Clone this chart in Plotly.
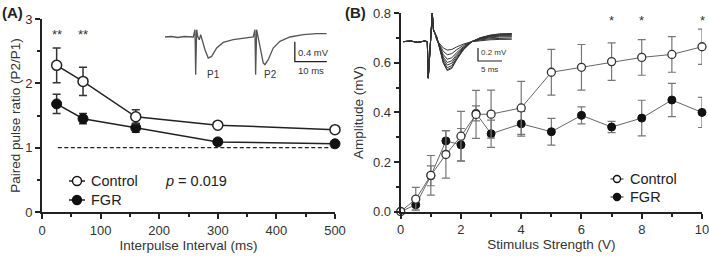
import plotly.graph_objects as go

W, H = 709, 256
FONT = "Liberation Sans, Arial, sans-serif"

# ---------------- Panel A data ----------------
ipi = [25, 70, 160, 300, 500]
ppr_control = [2.28, 2.03, 1.48, 1.35, 1.28]
ppr_control_err = [0.27, 0.22, 0.11, 0.03, 0.03]
ppr_fgr = [1.68, 1.45, 1.31, 1.09, 1.06]
ppr_fgr_err = [0.15, 0.08, 0.07, 0.02, 0.02]
sig_a_x = [25, 70]
sig_a_text = ["**", "**"]
unity_ratio = 1.0
unity_start = 27

# ---------------- Panel B data ----------------
stim = [0, 0.5, 1, 1.5, 2, 2.5, 3, 4, 5, 6, 7, 8, 9, 10]
amp_control = [0.0, 0.05, 0.146, 0.23, 0.304, 0.392, 0.393, 0.418, 0.562, 0.582, 0.605, 0.622, 0.634, 0.665]
amp_control_err = [0.0, 0.047, 0.08, 0.095, 0.10, 0.097, 0.097, 0.107, 0.092, 0.092, 0.076, 0.072, 0.072, 0.071]
amp_fgr = [0.0, 0.027, 0.144, 0.285, 0.269, 0.396, 0.314, 0.354, 0.322, 0.388, 0.341, 0.377, 0.45, 0.40]
amp_fgr_err = [0.0, 0.02, 0.04, 0.042, 0.066, 0.03, 0.055, 0.05, 0.054, 0.034, 0.023, 0.072, 0.067, 0.061]
sig_b_x = [7, 8, 10]
sig_b_text = ["*", "*", "*"]

legend_names = ["Control", "FGR"]

# ---------------- Inset A (paired-pulse trace; ms, mV) ----------------
trace_a_t = [0, 2, 4, 6, 8.84, 9.38, 9.59, 9.91, 10.22, 10.72, 11.16, 11.78, 12.5, 13.53, 14.59,
             16.16, 18.22, 21.34, 24.47, 27.6, 28.13, 28.34, 28.66, 29.16, 29.69, 30.72, 31.25,
             32.28, 33.84, 35.94, 39.06, 43.22, 47.41, 50.53]
trace_a_v = [0, 0.01, -0.01, 0.01, 0, 0.146, -0.754, 0.146, 0.012, -0.054, 0.046, -0.088, -0.254,
             -0.42, -0.388, -0.22, -0.108, -0.054, -0.02, 0, 0.146, -0.754, 0.146, -0.02, -0.254,
             -0.52, -0.554, -0.454, -0.22, -0.088, 0, 0.046, 0.066, 0.066]
scale_a_t = [40.6, 40.6, 50.6]
scale_a_v = [-0.094, -0.494, -0.494]

# ---------------- Inset B (input-output traces; ms, mV) ----------------
art_b_t = [0, 1.5, 3, 4.5, 5.0, 5.2, 5.67, 6.04, 6.29, 6.6]
art_b_v = [0, 0.01, -0.01, 0.01, 0, -0.56, 0, 0.437, 0.18, 0.13]
resp_b_t = [6.96, 7.65, 8.33, 9.17, 10.1, 11.1, 12.5, 14.25, 16.0, 18.06, 20.1, 22.6]
resp_b_v = [0.077, -0.128, -0.33, -0.446, -0.41, -0.28, -0.128, 0.0, 0.06, 0.1, 0.12, 0.125]
resp_b_depths = [0.13, 0.2, 0.27, 0.32, 0.36, 0.4, 0.43, 0.446]
scale_b_t = [15.56, 15.56, 20.56]
scale_b_v = [-0.097, -0.297, -0.297]


def px_x(p):
    return p / W


def px_y(p):
    return 1 - p / H


fig = go.Figure()

# Panel A traces
fig.add_trace(go.Scatter(
    x=ipi, y=ppr_fgr, mode="lines+markers", name="FGR", showlegend=False,
    line=dict(color="#222", width=1.5),
    marker=dict(symbol="circle", size=10, color="#111", line=dict(color="#111", width=1)),
    error_y=dict(type="data", array=ppr_fgr_err, color="#333", thickness=1.5, width=4),
    xaxis="x", yaxis="y", cliponaxis=False))
fig.add_trace(go.Scatter(
    x=ipi, y=ppr_control, mode="lines+markers", name="Control", showlegend=False,
    line=dict(color="#222", width=1.5),
    marker=dict(symbol="circle", size=10, color="white", line=dict(color="#222", width=1.5)),
    error_y=dict(type="data", array=ppr_control_err, color="#333", thickness=1.5, width=4),
    xaxis="x", yaxis="y", cliponaxis=False))

# Panel B traces
fig.add_trace(go.Scatter(
    x=stim, y=amp_fgr, mode="lines+markers", name="FGR", showlegend=False,
    line=dict(color="#666", width=1),
    marker=dict(symbol="circle", size=8, color="#111", line=dict(color="#111", width=1)),
    error_y=dict(type="data", array=amp_fgr_err, color="#777", thickness=1.2, width=4),
    xaxis="x2", yaxis="y2", cliponaxis=False))
fig.add_trace(go.Scatter(
    x=stim, y=amp_control, mode="lines+markers", name="Control", showlegend=False,
    line=dict(color="#666", width=1),
    marker=dict(symbol="circle", size=8, color="white", line=dict(color="#333", width=1.3)),
    error_y=dict(type="data", array=amp_control_err, color="#777", thickness=1.2, width=4),
    xaxis="x2", yaxis="y2", cliponaxis=False))

# Inset A
fig.add_trace(go.Scatter(x=trace_a_t, y=trace_a_v, mode="lines", showlegend=False,
                         line=dict(color="#555", width=1.3), xaxis="x3", yaxis="y3", hoverinfo="skip"))
fig.add_trace(go.Scatter(x=scale_a_t, y=scale_a_v, mode="lines", showlegend=False,
                         line=dict(color="#222", width=1.3), xaxis="x3", yaxis="y3", hoverinfo="skip"))

# Inset B
for d in resp_b_depths:
    k = d / max(resp_b_depths)
    fig.add_trace(go.Scatter(x=art_b_t + resp_b_t, y=art_b_v + [v * k for v in resp_b_v],
                             mode="lines", showlegend=False,
                             line=dict(color="#333", width=1), xaxis="x4", yaxis="y4", hoverinfo="skip"))
fig.add_trace(go.Scatter(x=scale_b_t, y=scale_b_v, mode="lines", showlegend=False,
                         line=dict(color="#222", width=1.2), xaxis="x4", yaxis="y4", hoverinfo="skip"))

minor_common = dict(ticks="outside", ticklen=3, tickwidth=1.5, tickcolor="#222")
axis_common = dict(showline=True, linecolor="#222", linewidth=2, ticks="outside", ticklen=5,
                   tickwidth=1.5, tickcolor="#222", showgrid=False, zeroline=False, automargin=False,
                   ticklabeloverflow="allow",
                   tickfont=dict(family=FONT, size=13, color="#333"),
                   title_font=dict(family=FONT, size=13.5, color="#333"))

fig.update_layout(
    width=W, height=H, margin=dict(l=0, r=0, t=0, b=0),
    paper_bgcolor="white", plot_bgcolor="white", showlegend=False,
    font=dict(family=FONT, color="#333"),
    xaxis=dict(domain=[px_x(42), px_x(335)], range=[0, 500], tickvals=[0, 100, 200, 300, 400, 500],
               minor=dict(tickvals=[50, 150, 250, 350, 450], **minor_common),
               title=dict(text="Interpulse Interval (ms)", standoff=0), anchor="y", **axis_common),
    yaxis=dict(domain=[px_y(212), px_y(19)], range=[0, 3], tickvals=[0, 1, 2, 3],
               minor=dict(tickvals=[0.5, 1.5, 2.5], **minor_common),
               title=dict(text="Paired pulse ratio (P2/P1)", standoff=1), anchor="x", **axis_common),
    xaxis2=dict(domain=[px_x(400.7), px_x(702)], range=[0, 10], tickvals=[0, 2, 4, 6, 8, 10],
                minor=dict(tickvals=[1, 3, 5, 7, 9], **minor_common),
                title=dict(text="Stimulus Strength (V)", standoff=0), anchor="y2", **axis_common),
    yaxis2=dict(domain=[px_y(211.5), px_y(13.3)], range=[0, 0.8], tickvals=[0, 0.2, 0.4, 0.6, 0.8],
                tickformat=".1f", minor=dict(tickvals=[0.1, 0.3, 0.5, 0.7], **minor_common),
                title=dict(text="Amplitude (mV)", standoff=6), anchor="x2", **axis_common),
    xaxis3=dict(domain=[px_x(165), px_x(330)], range=[0, 51.6], visible=False, anchor="y3"),
    yaxis3=dict(domain=[px_y(80), px_y(25)], range=[-0.86, 0.24], visible=False, anchor="x3"),
    xaxis4=dict(domain=[px_x(403.3), px_x(515)], range=[0, 23.27], visible=False, anchor="y4"),
    yaxis4=dict(domain=[px_y(82), px_y(8)], range=[-0.62, 0.518], visible=False, anchor="x4"),
)

ann = []
ann.append(dict(text="<b>(A)</b>", x=0, y=px_y(12), xref="paper", yref="paper", xanchor="left",
                yanchor="middle", showarrow=False, font=dict(family=FONT, size=15, color="#222")))
ann.append(dict(text="<b>(B)</b>", x=px_x(343), y=px_y(12), xref="paper", yref="paper", xanchor="left",
                yanchor="middle", showarrow=False, font=dict(family=FONT, size=15, color="#222")))
ann.append(dict(text="<i>p</i> = 0.019", x=px_x(163), y=px_y(181), xref="paper", yref="paper",
                xanchor="left", yanchor="middle", showarrow=False,
                font=dict(family=FONT, size=14.5, color="#222")))
for xs, t in zip(sig_a_x, sig_a_text):
    ann.append(dict(text=t, x=xs, y=2.76, xref="x", yref="y", showarrow=False, yanchor="middle",
                    font=dict(family=FONT, size=13, color="#333")))
for xs, t in zip(sig_b_x, sig_b_text):
    ann.append(dict(text=t, x=xs, y=0.77, xref="x2", yref="y2", showarrow=False, yanchor="middle",
                    font=dict(family=FONT, size=13, color="#333")))
# inset labels
ann.append(dict(text="P1", x=12.5, y=-0.75, xref="x3", yref="y3", xanchor="left", yanchor="middle",
                showarrow=False, font=dict(family=FONT, size=10, color="#333")))
ann.append(dict(text="P2", x=30.3, y=-0.75, xref="x3", yref="y3", xanchor="left", yanchor="middle",
                showarrow=False, font=dict(family=FONT, size=10, color="#333")))
ann.append(dict(text="0.4 mV", x=41.1, y=-0.3, xref="x3", yref="y3", xanchor="left", yanchor="middle",
                showarrow=False, font=dict(family=FONT, size=9.5, color="#333")))
ann.append(dict(text="10 ms", x=45.6, y=-0.67, xref="x3", yref="y3", xanchor="center", yanchor="middle",
                showarrow=False, font=dict(family=FONT, size=9.5, color="#333")))
ann.append(dict(text="0.2 mV", x=15.8, y=-0.17, xref="x4", yref="y4", xanchor="left", yanchor="middle",
                showarrow=False, font=dict(family=FONT, size=8, color="#333")))
ann.append(dict(text="5 ms", x=18.06, y=-0.435, xref="x4", yref="y4", xanchor="center", yanchor="middle",
                showarrow=False, font=dict(family=FONT, size=8, color="#333")))

shapes = []
shapes.append(dict(type="line", x0=unity_start, x1=500, y0=unity_ratio, y1=unity_ratio, xref="x", yref="y",
                   line=dict(color="#222", width=1.3, dash="4px,2.5px"), layer="below"))


# Manual legends (symbol: short line + circle, then label)
def add_legend(cx, cy_list, r, fills, line_w, seg, gap, font_size, line_col):
    for cy, fill, name in zip(cy_list, fills, legend_names):
        shapes.append(dict(type="line", xref="paper", yref="paper",
                           x0=px_x(cx - seg), x1=px_x(cx + seg), y0=px_y(cy), y1=px_y(cy),
                           line=dict(color=line_col, width=line_w)))
        shapes.append(dict(type="circle", xref="paper", yref="paper",
                           x0=px_x(cx - r), x1=px_x(cx + r), y0=px_y(cy + r), y1=px_y(cy - r),
                           fillcolor=fill, line=dict(color="#111", width=1.4)))
        ann.append(dict(text=name, x=px_x(cx + seg + gap), y=px_y(cy), xref="paper", yref="paper",
                        xanchor="left", yanchor="middle", showarrow=False,
                        font=dict(family=FONT, size=font_size, color="#222")))


add_legend(77, [181, 200], 4.5, ["white", "#111"], 1.5, 8, 4, 14.5, "#222")
add_legend(617, [179, 197], 3.5, ["white", "#111"], 1.2, 6.5, 4, 14.5, "#444")

fig.update_layout(annotations=ann, shapes=shapes)

fig.write_html("out.html", config={"displayModeBar": False},
               post_script="document.body.style.margin='0px';")
